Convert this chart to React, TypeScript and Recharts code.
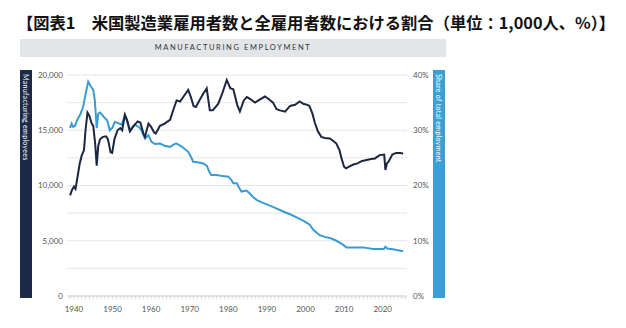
import { LineChart, Line, XAxis, YAxis, CartesianGrid } from "recharts";

// manufacturing employees (thousands)
const empYears = [
  1939.0, 1939.5, 1940.0, 1940.4, 1940.8, 1941.5, 1942.0, 1942.6, 1943.0, 1943.5, 1944.0, 1944.6, 1945.0,
  1945.5, 1945.9, 1946.3, 1946.8, 1947.5, 1948.3, 1948.8, 1949.5, 1949.9, 1950.5, 1951.3, 1952.0, 1952.5,
  1953.2, 1953.8, 1954.5, 1955.5, 1956.5, 1957.2, 1958.0, 1958.4, 1959.3, 1960.0, 1960.8, 1961.2, 1962.3,
  1963.5, 1964.9, 1965.8, 1966.6, 1967.5, 1968.5, 1969.6, 1970.3, 1971.0, 1971.6, 1972.5, 1973.5, 1974.4,
  1975.2, 1976.0, 1977.4, 1978.5, 1979.6, 1980.5, 1981.3, 1982.3, 1983.0, 1984.0, 1984.8, 1985.8, 1986.9,
  1987.8, 1989.5, 1990.5, 1991.6, 1992.5, 1993.4, 1994.7, 1995.5, 1996.0, 1997.3, 1998.5, 1999.4, 2000.5,
  2001.0, 2001.8, 2002.4, 2003.2, 2004.1, 2005.0, 2006.3, 2007.3, 2008.0, 2008.8, 2009.3, 2010.0, 2010.5,
  2011.3, 2012.4, 2013.5, 2014.5, 2015.8, 2017.0, 2018.0, 2019.2, 2020.4, 2020.7, 2021.1, 2021.6, 2022.5,
  2023.5, 2024.5, 2025.3,
];
const empValues = [
  9100, 9600, 9900, 9700, 10500, 12000, 12700, 13200, 15000, 16600, 16300, 15600, 15400,
  13800, 11800, 13600, 14200, 14400, 14450, 14200, 13000, 12950, 14200, 15000, 15200, 15000,
  16400, 15900, 14900, 15400, 15800, 15700, 14700, 14400, 15600, 15300, 14800, 14700, 15400,
  15600, 15950, 16900, 17700, 17600, 18100, 18650, 18000, 17200, 17100, 17700, 18300, 18800,
  16800, 16800, 17400, 18400, 19550, 18800, 18700, 17300, 16700, 17700, 18000, 17800, 17500,
  17700, 18050, 17800, 17500, 16900, 16800, 16680, 17000, 17200, 17300, 17600, 17400, 17300,
  17200, 16500, 15700, 14900, 14400, 14300, 14250, 14000, 13800, 13200, 12500, 11700, 11550,
  11700, 11900, 12000, 12200, 12300, 12400, 12450, 12750, 12800, 11400, 12000, 12200, 12800,
  12950, 12950, 12900,
];

// share of total employment (%)
const shareYears = [
  1939.0, 1939.4, 1939.8, 1940.3, 1940.8, 1941.6, 1942.4, 1943.0, 1943.7, 1944.3, 1945.0, 1945.4, 1945.9,
  1946.3, 1946.8, 1948.0, 1948.6, 1949.3, 1950.0, 1950.6, 1951.5, 1952.4, 1953.2, 1953.8, 1954.5, 1955.0,
  1955.8, 1956.8, 1957.5, 1958.4, 1959.3, 1960.1, 1961.0, 1962.3, 1963.5, 1964.9, 1966.0, 1966.6, 1968.0,
  1969.6, 1970.3, 1970.9, 1972.0, 1973.5, 1974.4, 1975.2, 1975.6, 1977.0, 1978.5, 1980.0, 1980.8, 1981.3,
  1982.2, 1982.8, 1983.4, 1984.7, 1985.5, 1986.3, 1987.3, 1988.5, 1990.3, 1992.0, 1994.2, 1996.0, 1998.1,
  1999.5, 2001.1, 2002.0, 2003.0, 2003.7, 2005.0, 2006.7, 2008.0, 2009.3, 2010.6, 2012.5, 2014.9, 2017.5,
  2020.3, 2020.7, 2021.2, 2023.0, 2025.3,
];
const shareValues = [
  30.4, 31.2, 30.6, 30.8, 31.8, 32.8, 34.3, 36.5, 38.8, 38.0, 37.3, 35.5, 30.4,
  33.0, 33.2, 32.2, 31.8, 30.0, 30.5, 31.5, 31.3, 31.0, 32.8, 31.5, 30.0, 30.5,
  31.0, 30.6, 30.0, 28.5, 29.1, 27.9, 27.5, 27.6, 27.2, 27.0, 27.5, 27.6, 27.0,
  26.1, 25.2, 24.3, 24.2, 24.0, 23.6, 22.3, 21.9, 21.9, 21.7, 21.6, 21.0, 20.4,
  20.4, 19.6, 18.9, 19.1, 18.6, 18.0, 17.4, 17.0, 16.5, 16.0, 15.3, 14.8, 14.1,
  13.6, 12.9, 12.0, 11.4, 11.0, 10.7, 10.4, 10.0, 9.5, 8.8, 8.8, 8.8, 8.5,
  8.5, 8.9, 8.6, 8.4, 8.1,
];

const empTicks = [0, 2500, 5000, 7500, 10000, 12500, 15000, 17500, 20000];
const shareTicks = [0, 10, 20, 30, 40];

type Row = { year: number; emp?: number; share?: number };
const rowMap = new Map<number, Row>();
empYears.forEach((y, i) => {
  const r = rowMap.get(y) || { year: y };
  r.emp = empValues[i];
  rowMap.set(y, r);
});
shareYears.forEach((y, i) => {
  const r = rowMap.get(y) || { year: y };
  r.share = shareValues[i];
  rowMap.set(y, r);
});
const data = Array.from(rowMap.values()).sort((a, b) => a.year - b.year);

// a small tick every year, a label every decade
const yearTicks: number[] = [];
for (let y = 1939; y <= 2026; y++) yearTicks.push(y);

const tickFont = { fontSize: 8, fill: "#555", fontFamily: "Lato, sans-serif" };

const sideBar = {
  position: "absolute" as const, top: 70, width: 12, height: 228, color: "#fff", fontSize: 7,
  letterSpacing: 0.3, fontFamily: "Lato, sans-serif", writingMode: "vertical-rl" as const,
  lineHeight: "12px", paddingTop: 4, boxSizing: "border-box" as const, whiteSpace: "nowrap" as const,
};

export default function App() {
  return (
    <div style={{ position: "absolute", left: 0, top: 0, width: 626, height: 328, background: "#fff" }}>
      <div
        style={{
          position: "absolute", left: 17, top: 12, fontSize: 16.3, lineHeight: "20px", fontWeight: 700,
          fontFamily: "'Noto Sans CJK JP', sans-serif", color: "#111", whiteSpace: "nowrap",
        }}
      >
        【図表1　米国製造業雇用者数と全雇用者数における割合（単位：1,000人、%）】
      </div>
      <div
        style={{
          position: "absolute", left: 20, top: 39, width: 426, height: 18, background: "#e2e6e9",
          textAlign: "center", lineHeight: "18px", fontSize: 7.5, letterSpacing: 1.6, color: "#333",
          fontFamily: "Lato, sans-serif",
        }}
      >
        MANUFACTURING EMPLOYMENT
      </div>
      <div style={{ ...sideBar, left: 20, background: "#1c2a47" }}>Manufacturing employees</div>
      <div style={{ ...sideBar, left: 433, background: "#3c9fd3" }}>Share of total employment</div>
      <div style={{ position: "absolute", left: 0, top: 0 }}>
        <LineChart width={626} height={328} data={data} margin={{ top: 75, right: 189, left: 37, bottom: 7 }}>
          <CartesianGrid yAxisId="left" vertical={false} stroke="#e6e6e6" />
          <XAxis
            dataKey="year"
            type="number"
            domain={[1938.2, 2026.3]}
            ticks={yearTicks}
            interval={0}
            tickFormatter={(v: number) => (v % 10 === 0 ? String(v) : "")}
            tick={tickFont}
            tickSize={3}
            tickMargin={7}
            stroke="#d6d6d6"
            height={25}
          />
          <YAxis
            yAxisId="left"
            domain={[0, 20000]}
            ticks={empTicks}
            interval={0}
            tickFormatter={(v: number) => (v % 5000 === 0 ? v.toLocaleString("en-US") : "")}
            tick={tickFont}
            axisLine={false}
            tickLine={false}
            tickSize={2}
            tickMargin={2}
            width={30}
          />
          <YAxis
            yAxisId="right"
            orientation="right"
            domain={[0, 40]}
            ticks={shareTicks}
            interval={0}
            tickFormatter={(v: number) => `${v}%`}
            tick={tickFont}
            axisLine={false}
            tickLine={false}
            tickSize={4}
            tickMargin={2}
            width={30}
          />
          <Line
            yAxisId="right"
            dataKey="share"
            type="linear"
            stroke="#3a9bd0"
            strokeWidth={2}
            dot={false}
            connectNulls
            isAnimationActive={false}
          />
          <Line
            yAxisId="left"
            dataKey="emp"
            type="linear"
            stroke="#1b2640"
            strokeWidth={2}
            dot={false}
            connectNulls
            isAnimationActive={false}
          />
        </LineChart>
      </div>
    </div>
  );
}
